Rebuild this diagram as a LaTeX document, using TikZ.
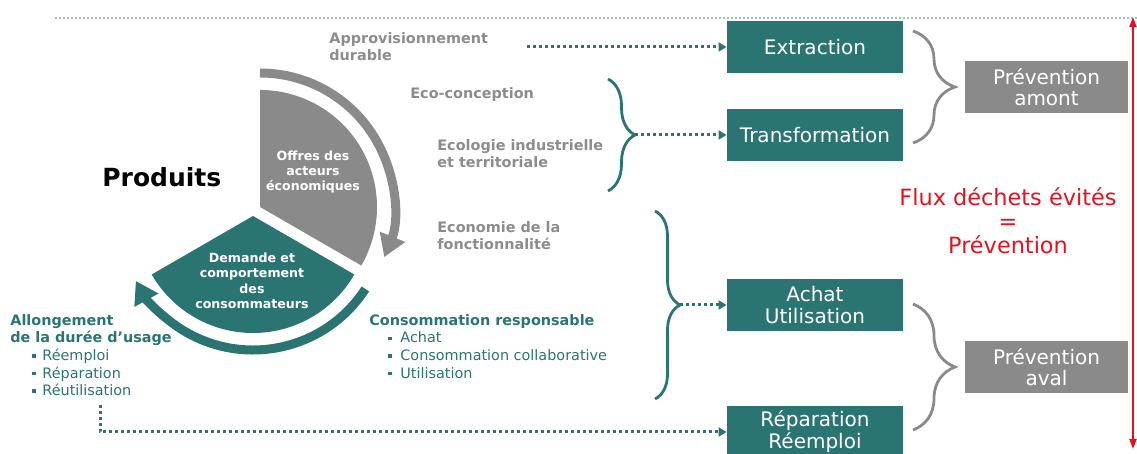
\documentclass[tikz,border=0pt]{standalone}
\usepackage{fontspec}
\setmainfont{DejaVu Sans}
\usetikzlibrary{arrows.meta,decorations.pathreplacing}

\definecolor{ademeteal}{HTML}{2A7572}
\definecolor{piegray}{HTML}{8A8A8A}
\definecolor{textgray}{HTML}{8C8C8C}
\definecolor{topdots}{HTML}{9CC4C2}
\definecolor{fluxred}{HTML}{E8101E}

\newcommand{\puce}{\raisebox{1.4pt}{\rule{1.8pt}{1.8pt}}}

\tikzset{
  stepbox/.style={fill=ademeteal, text=white, minimum width=88pt, minimum height=26pt,
    inner sep=0pt, align=center, font=\fontsize{10}{11}\selectfont},
  prevbox/.style={fill=piegray, text=white, minimum width=81.5pt, minimum height=26pt,
    inner sep=0pt, align=center, font=\fontsize{10}{10.5}\selectfont},
  sidelabel/.style={anchor=north west, inner sep=0pt, align=left},
  graylabel/.style={sidelabel, text=textgray, font=\fontsize{7.2}{8.4}\selectfont\bfseries},
  teallist/.style={sidelabel, text=ademeteal, font=\fontsize{7.2}{8.8}\selectfont},
  pielabel/.style={text=white, inner sep=0pt, align=center, font=\fontsize{6.3}{7.7}\selectfont\bfseries},
  fluxtext/.style={text=fluxred, align=center, inner sep=0pt, font=\fontsize{11.2}{12}\selectfont},
  dotarrow/.style={draw=ademeteal, line width=1.5pt, dash pattern=on 1.5pt off 1.5pt,
    -{Triangle[length=4pt,width=4.5pt]}},
  graybrace/.style={decorate, decoration={brace, amplitude=21pt}, draw=piegray, line width=1.4pt},
  tealbrace/.style={decorate, decoration={brace, amplitude=#1}, draw=ademeteal, line width=1.4pt},
  tealbrace/.default=13pt,
  ringgray/.style={draw=piegray, line width=4.5pt, -{Triangle[length=11pt,width=13pt]}},
  ringteal/.style={draw=ademeteal, line width=4.5pt, -{Triangle[length=11pt,width=13pt]}},
  fluxarrow/.style={draw=fluxred, line width=1pt,
    {Triangle[length=5pt,width=3.5pt]}-{Triangle[length=5pt,width=3.5pt]}},
}

\begin{document}
\begin{tikzpicture}[x=0.5pt, y=0.5pt]
		%%%%% START %%%%%
		\useasboundingbox (0,0) rectangle (1137,454);
		\draw[topdots, line width=0.6pt, dash pattern=on 1pt off 1pt] (55,436) -- (1137,436);
		
		% cycle
		\coordinate (offres) at (260,247);
		\coordinate (demande) at (253,238);
		\fill[piegray] (offres) -- ++(-30:58.5pt) arc (-30:90:58.5pt) -- cycle;
		\fill[ademeteal] (demande) -- ++(210:58.5pt) arc (210:330:58.5pt) -- cycle;
		\draw[ringgray] (offres) ++(90:67pt) arc (90:-22:67pt);
		\draw[ringteal] (demande) ++(-33:67pt) arc (-33:-151:67pt);
		\node[pielabel] (offrestxt) at (313,282) {Offres des\\acteurs\\économiques};
		\node[pielabel] (demandetxt) at (252,173) {Demande et\\comportement\\des\\consommateurs};
		\node[anchor=north west, inner sep=0pt, font=\fontsize{12.5}{15}\selectfont\bfseries] (produits) at (102,287) {Produits};
		
		% levers
		\node[graylabel] (appro) at (329,422) {Approvisionnement\\durable};
		\node[graylabel] (ecoconc) at (410,367) {Eco-conception};
		\node[graylabel] (ecolo) at (437,315) {Ecologie industrielle\\et territoriale};
		\node[graylabel] (econ) at (437,233) {Economie de la\\fonctionnalité};
		\node[teallist] (consresp) at (369,140) {\textbf{Consommation responsable}\\
			\hspace*{9.5pt}\makebox[6pt][l]{\puce}Achat\\
			\hspace*{9.5pt}\makebox[6pt][l]{\puce}Consommation collaborative\\
			\hspace*{9.5pt}\makebox[6pt][l]{\puce}Utilisation};
		\node[teallist] (allong) at (10,140) {\textbf{Allongement}\\\textbf{de la durée d’usage}\\
			\hspace*{11pt}\makebox[5pt][l]{\puce}Réemploi\\
			\hspace*{11pt}\makebox[5pt][l]{\puce}Réparation\\
			\hspace*{11pt}\makebox[5pt][l]{\puce}Réutilisation};
		
		% stages
		\node[stepbox] (extraction) at (815,407) {Extraction};
		\node[stepbox] (transformation) at (815,319) {Transformation};
		\node[stepbox] (achat) at (815,149) {Achat\\Utilisation};
		\node[stepbox] (reparation) at (815,22) {Réparation\\Réemploi};
		\node[prevbox] (amont) at (1046.5,367) {Prévention\\amont};
		\node[prevbox] (aval) at (1046.5,87) {Prévention\\aval};
		\node[fluxtext] (flux) at (1008,233) {Flux déchets évités\\=\\Prévention};
		
		% braces
		\draw[graybrace] (913,423) -- (913,311);
		\draw[graybrace] (913,150) -- (913,24);
		\draw[tealbrace=13.5pt] (608,375) -- (608,263);
		\draw[tealbrace=12.5pt] (655,243) -- (655,55);
		\coordinate (transfotip) at (635,319);
		\coordinate (achattip) at (680,149);
		\coordinate (approstart) at (527,407);
		\coordinate (allongstart) at (100,49);
		
		% dotted links
		\draw[dotarrow] (approstart) -- (extraction.west);
		\draw[dotarrow] (transfotip) -- (transformation.west);
		\draw[dotarrow] (achattip) -- (achat.west);
		\draw[dotarrow] (allongstart) |- (reparation.west);
		
		\coordinate (fluxtop) at (1133,437);
		\coordinate (fluxbot) at (1133,5);
		\draw[fluxarrow] (fluxtop) -- (fluxbot);
		%%%%% END %%%%%
	\end{tikzpicture}
\end{document}
